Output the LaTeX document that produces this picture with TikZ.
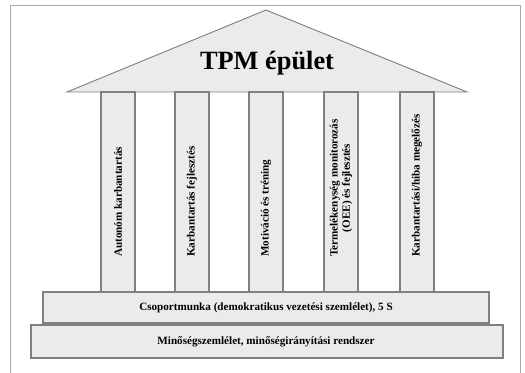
\documentclass[tikz,border=0pt]{standalone}
\usepackage{fontspec}
\setmainfont{Liberation Serif}
\definecolor{partfill}{HTML}{EBEBEB}
\definecolor{partline}{HTML}{808080}
\definecolor{framegray}{HTML}{A8A8A8}
\tikzset{
  part/.style={draw=partline, line width=1pt, fill=partfill},
  pillartext/.style={rotate=90, anchor=west, align=center, inner sep=0pt,
    font=\fontsize{9.5}{10.5}\selectfont\bfseries},
  basetext/.style={font=\fontsize{9.5}{11}\selectfont\bfseries}
}
\begin{document}
\begin{tikzpicture}[x=0.03cm, y=-0.03cm]
	\useasboundingbox (0,0) rectangle (525,373);
	% frame, open at the bottom
	\draw[framegray, line width=0.9pt] (10.5,373) -- (10.5,5.5) -- (520.5,5.5) -- (520.5,373);

	% roof
	\draw[part, line width=0.8pt] (67,92) -- (266,10) -- (467,92) -- cycle;
	\node (title) at (267,63) {\fontsize{22.5}{26}\selectfont\bfseries TPM épület};

	% pillars
	\foreach \x/\name/\txt in {
	    101/autonom/{Autonóm karbantartás},
	    175/fejlesztes/{Karbantartás fejlesztés},
	    249/motivacio/{Motiváció és tréning},
	    324/oee/{Termelékenység monitorozás\\(OEE) és fejlesztés},
	    400/megelozes/{Karbantartási/hiba megelőzés}} {
		\draw[part] (\x,92) rectangle ++(34,200);
		\node[pillartext] (\name) at (\x+17,257) {\txt};
	}

	% foundation
	\draw[part] (43,292) rectangle (489,323);
	\node[basetext] (csoport) at (266,308) {Csoportmunka (demokratikus vezetési szemlélet), 5 S};
	\draw[part] (31,325) rectangle (503,358);
	\node[basetext] (minoseg) at (266,342) {Minőségszemlélet, minőségirányítási rendszer};
\end{tikzpicture}
\end{document}
